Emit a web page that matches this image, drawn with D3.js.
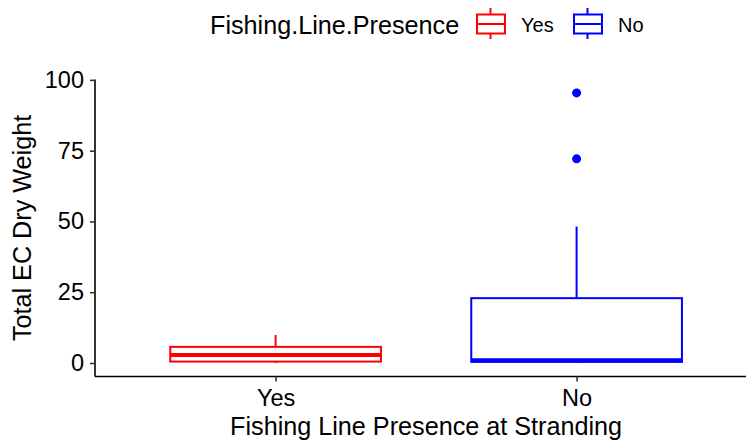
<!DOCTYPE html>
<html>
<head>
<meta charset="utf-8">
<script src="https://cdn.jsdelivr.net/npm/d3@7"></script>
<style>
  html, body { margin: 0; padding: 0; background: #fff; }
  svg text { font-family: "Liberation Sans", Arial, Helvetica, sans-serif; fill: #000; }
</style>
</head>
<body>
<svg id="chart"></svg>
<script>
  const width = 746;
  const height = 443;

  // Data
  const categories = ["Yes", "No"];
  const colors = ["#FF0000", "#0000FF"];
  const lowerWhisker = [0, 0];
  const q1 = [0.5, 0.4];
  const median = [2.8, 1.0];
  const q3 = [5.7, 22.9];
  const upperWhisker = [9.9, 48.2];
  const outliers = [[], [72.1, 95.4]];
  const yTicks = [0, 25, 50, 75, 100];

  const boxes = categories.map((c, i) => ({
    cat: c,
    color: colors[i],
    lo: lowerWhisker[i],
    q1: q1[i],
    med: median[i],
    q3: q3[i],
    hi: upperWhisker[i],
    out: outliers[i]
  }));

  const svg = d3.select("#chart").attr("width", width).attr("height", height);

  // Panel edges
  const panelLeft = 95, panelTop = 79.4, panelBottom = 376.5;

  // ggplot-like scales: 5% expansion on y, 0.6 unit padding on discrete x
  const dataMax = 95.4;
  const yMin = -0.05 * dataMax, yMax = dataMax * 1.05;
  const y = d3.scaleLinear().domain([yMin, yMax]).range([panelBottom, panelTop]);
  const x = d3.scalePoint().domain(categories)
    .range([panelLeft, panelLeft + 301 * 2.2]).padding(0.6);
  const boxW = x.step() * 0.7;

  // Boxes
  const g = svg.append("g");
  const box = g.selectAll(".box").data(boxes).enter().append("g").attr("class", "box");

  box.append("line")
    .attr("x1", d => x(d.cat)).attr("x2", d => x(d.cat))
    .attr("y1", d => y(d.q3)).attr("y2", d => y(d.hi))
    .attr("stroke", d => d.color).attr("stroke-width", 2);
  box.append("line")
    .attr("x1", d => x(d.cat)).attr("x2", d => x(d.cat))
    .attr("y1", d => y(d.q1)).attr("y2", d => y(d.lo))
    .attr("stroke", d => d.color).attr("stroke-width", 2);
  box.append("rect")
    .attr("x", d => x(d.cat) - boxW / 2)
    .attr("width", boxW)
    .attr("y", d => y(d.q3))
    .attr("height", d => y(d.q1) - y(d.q3))
    .attr("fill", "#fff")
    .attr("stroke", d => d.color)
    .attr("stroke-width", 2);
  box.append("line")
    .attr("x1", d => x(d.cat) - boxW / 2).attr("x2", d => x(d.cat) + boxW / 2)
    .attr("y1", d => y(d.med)).attr("y2", d => y(d.med))
    .attr("stroke", d => d.color).attr("stroke-width", 4);
  box.selectAll(".outlier")
    .data(d => d.out.map(v => ({ v: v, cat: d.cat, color: d.color })))
    .enter().append("circle")
    .attr("class", "outlier")
    .attr("cx", d => x(d.cat))
    .attr("cy", d => y(d.v))
    .attr("r", 4.5)
    .attr("fill", d => d.color);

  // Axes
  const yAxis = svg.append("g")
    .attr("transform", `translate(${panelLeft},0)`)
    .call(d3.axisLeft(y).tickValues(yTicks).tickSize(5).tickPadding(6));
  const xAxis = svg.append("g")
    .attr("transform", `translate(0,${panelBottom})`)
    .call(d3.axisBottom(x).tickSize(5).tickPadding(8));
  [yAxis, xAxis].forEach(a => {
    a.select(".domain").attr("stroke", "#000").attr("stroke-width", 1.6);
    a.selectAll(".tick line").attr("stroke", "#333").attr("stroke-width", 1.6);
    a.selectAll(".tick text").attr("font-size", 23.5).attr("fill", "#000");
  });
  yAxis.select(".domain").attr("d", `M0,${panelTop}V${panelBottom}`);
  xAxis.select(".domain").attr("d", `M${panelLeft},0H${width}`);

  // Axis titles
  svg.append("text")
    .attr("x", (x("Yes") + x("No")) / 2).attr("y", 435)
    .attr("text-anchor", "middle").attr("font-size", 25.2)
    .text("Fishing Line Presence at Stranding");
  svg.append("text")
    .attr("transform", `translate(31,${(panelTop + panelBottom) / 2}) rotate(-90)`)
    .attr("text-anchor", "middle").attr("font-size", 25.2)
    .text("Total EC Dry Weight");

  // Legend
  const legend = svg.append("g");
  legend.append("text").attr("x", 210).attr("y", 34).attr("font-size", 25.2)
    .text("Fishing.Line.Presence");
  const keyX = [476, 573];
  const labelX = [521, 618];
  boxes.forEach((d, i) => {
    const k = legend.append("g").attr("transform", `translate(${keyX[i]},0)`);
    k.append("line").attr("x1", 14.5).attr("x2", 14.5).attr("y1", 8).attr("y2", 39)
      .attr("stroke", d.color).attr("stroke-width", 2);
    k.append("rect").attr("x", 1).attr("y", 14.5).attr("width", 28).attr("height", 19)
      .attr("fill", "#fff").attr("stroke", d.color).attr("stroke-width", 2);
    k.append("line").attr("x1", 1).attr("x2", 29).attr("y1", 24).attr("y2", 24)
      .attr("stroke", d.color).attr("stroke-width", 2);
    legend.append("text").attr("x", labelX[i]).attr("y", 32).attr("font-size", 20)
      .text(d.cat);
  });
</script>
</body>
</html>
